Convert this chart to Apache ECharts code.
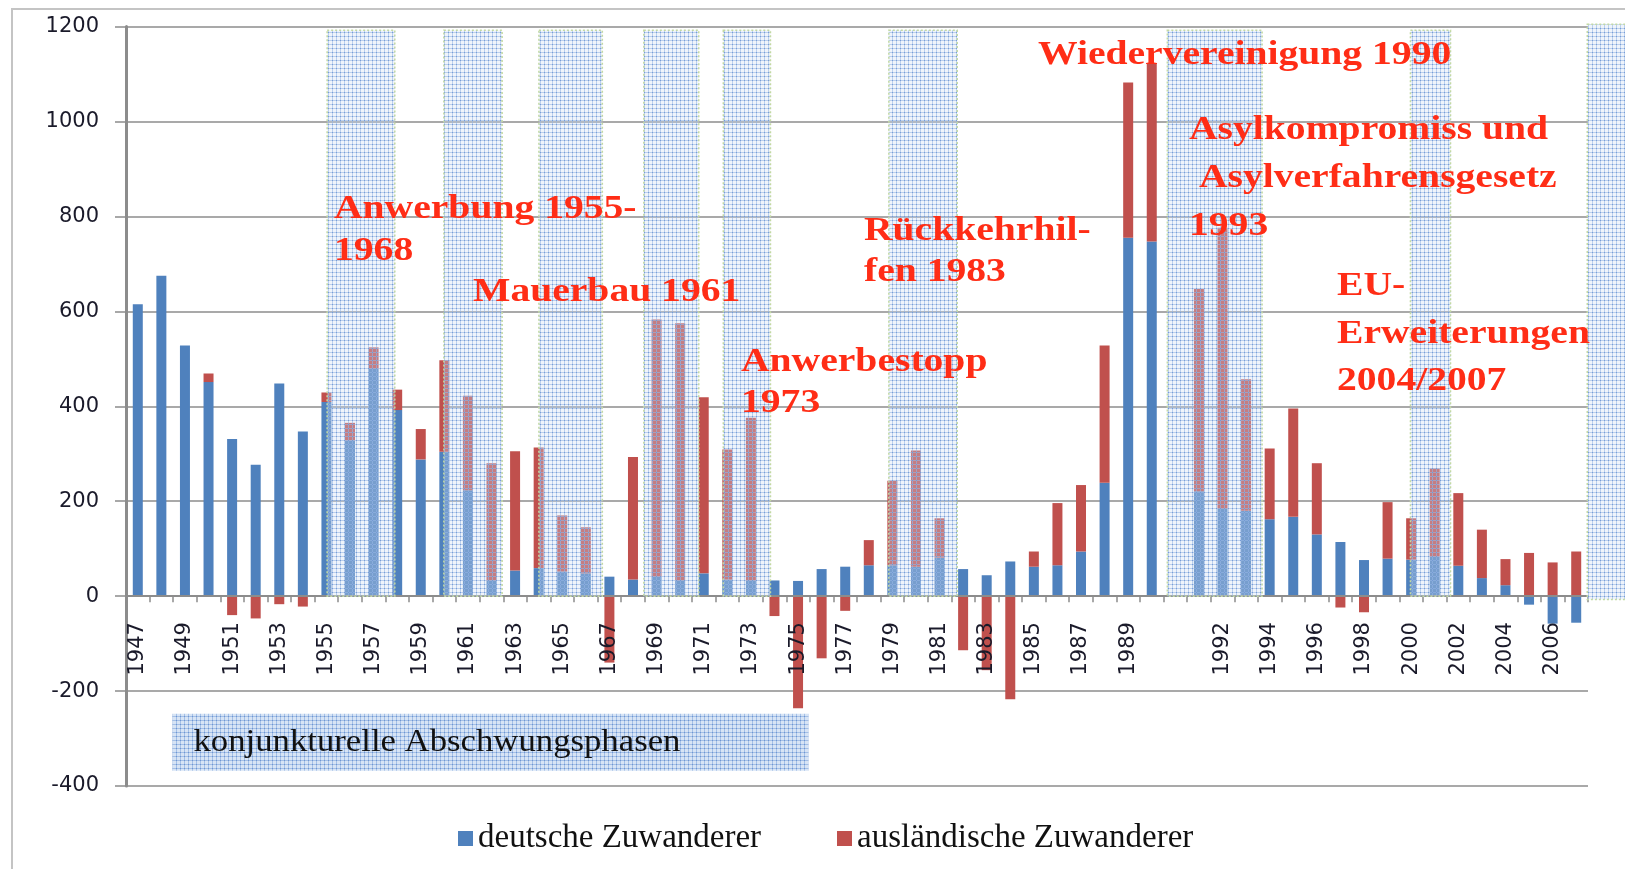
<!DOCTYPE html>
<html><head><meta charset="utf-8">
<script src="https://cdn.jsdelivr.net/npm/echarts@6/dist/echarts.min.js"></script>
<style>html,body{margin:0;padding:0;background:#fff;}#c{width:1625px;height:869px;}</style>
</head><body><div id="c"></div>
<script>
// ---- data ----
const years = ['1947','1948','1949','1950','1951','1952','1953','1954','1955','1956','1957','1958','1959','1960','1961','1962','1963','1964','1965','1966','1967','1968','1969','1970','1971','1972','1973','1974','1975','1976','1977','1978','1979','1980','1981','1982','1983','1984','1985','1986','1987','1988','1989','1990','','1991','1992','1993','1994','1995','1996','1997','1998','1999','2000','2001','2002','2003','2004','2005','2006','2007'];
const deutsche = [615,675,528,451,331,277,448,347,409,328,479,392,288,304,223,33,54,59,52,48,41,35,41,33,48,35,33,33,32,57,62,65,65,62,81,57,44,73,62,65,94,239,755,747,null,221,184,180,162,167,130,114,76,79,77,83,64,38,23,-18,-58,-56];
const auslaendische = [0,0,0,18,-40,-47,-17,-22,20,37,45,43,64,193,199,247,251,254,118,97,-140,258,542,542,371,274,343,-42,-236,-131,-31,53,178,245,83,-114,-156,-217,32,131,140,289,327,376,null,426,592,277,149,228,150,-24,-34,119,87,186,153,102,55,91,71,94];
const seriesNames = ['deutsche Zuwanderer','ausländische Zuwanderer'];
const yMin = -400, yMax = 1200, yStep = 200;
// shaded phases, in category-index units [from, to] and value range [low, high]
const phases = [[8.53,11.40,0,1192],[13.48,15.95,0,1192],[17.51,20.20,0,1192],[21.96,24.29,0,1192],[25.33,27.33,0,1192],[32.35,35.25,0,1192],[44.16,48.18,0,1192],[54.47,56.17,0,1192],[61.97,63.8,-7,1205]];
const phaseKey = [[1.97,28.94,-368,-248]];
const phaseKeyText = 'konjunkturelle Abschwungsphasen';
const notes = [
  {t:'Anwerbung 1955-\n1968', x:334, y:188, lh:42},
  {t:'Mauerbau 1961', x:473, y:271, lh:42},
  {t:'Anwerbestopp\n1973', x:741, y:342, lh:41},
  {t:'Rückkehrhil-\nfen 1983', x:864, y:211, lh:41},
  {t:'Wiedervereinigung 1990', x:1038, y:34, lh:42},
  {t:'Asylkompromiss und\n Asylverfahrensgesetz\n1993', x:1189, y:106, lh:48},
  {t:'EU-\nErweiterungen\n2004/2007', x:1337, y:263, lh:47.5}
];

function makePattern(base, line, dot){
  const c = document.createElement('canvas'); c.width = 4; c.height = 4;
  const g = c.getContext('2d');
  g.fillStyle = 'rgba(205,221,242,' + base + ')'; g.fillRect(0,0,4,4);
  g.fillStyle = 'rgba(150,182,226,' + line + ')'; g.fillRect(0,0,4,1); g.fillRect(0,0,1,4);
  g.fillStyle = 'rgba(105,145,208,' + dot + ')'; g.fillRect(0,0,1,1);
  return c;
}
const patBand = makePattern(0.32, 0.6, 0.75);
const patKey = makePattern(0.8, 0.8, 0.9);

const chart = echarts.init(document.getElementById('c'), null, {renderer:'canvas'});
const gray = '#8c8c8c';
const red = '#ff2d16';
const gridTop = 26.5, gridBottom = 83, H = 869;
const plotH = H - gridTop - gridBottom;
const zeroOffset = -plotH * (0 - yMin) / (yMax - yMin); // put category axis on the zero line
const graphics = [
  {type:'rect', shape:{x:12, y:9, width:1700, height:950}, style:{fill:'none', stroke:'#c4c4c4', lineWidth:2}, z:0, silent:true}
];
notes.forEach(n => graphics.push({
  type:'text', x:n.x, y:n.y, scaleX:1.2, z:100, silent:true,
  style:{text:n.t, font:'bold 33px "Liberation Serif"', fill:red, lineHeight:n.lh, verticalAlign:'top', align:'left'}
}));

chart.setOption({
  animation:false,
  backgroundColor:'#fff',
  grid:{left:126, right:37, top:gridTop, bottom:gridBottom, containLabel:false},
  legend:[
    {data:[seriesNames[0]], left:453, top:817, itemWidth:15, itemHeight:15, itemGap:10, icon:'rect',
     textStyle:{fontFamily:'Liberation Serif', fontSize:33, color:'#111'}},
    {data:[seriesNames[1]], left:832, top:817, itemWidth:15, itemHeight:15, itemGap:10, icon:'rect',
     textStyle:{fontFamily:'Liberation Serif', fontSize:33, color:'#111'}}
  ],
  xAxis:[
    {type:'category', data:years, boundaryGap:true, position:'bottom', offset:zeroOffset, z:4,
     axisLine:{onZero:false, lineStyle:{color:gray, width:2}},
     axisTick:{show:true, interval:0, length:6, lineStyle:{color:gray, width:1.5}},
     axisLabel:{interval:1, rotate:90, margin:26, fontFamily:'DejaVu Sans', fontSize:21, color:'#1a1a2a'},
     splitLine:{show:false}},
    {type:'value', min:0, max:62, show:false, axisLine:{onZero:false}}
  ],
  yAxis:{type:'value', min:yMin, max:yMax, interval:yStep,
    axisLine:{show:true, onZero:false, lineStyle:{color:gray, width:3}},
    axisTick:{show:true, length:11, lineStyle:{color:gray, width:1.5}},
    axisLabel:{margin:27, fontFamily:'DejaVu Sans', fontSize:21, color:'#1a1a2a', formatter:function(v){return String(v);}},
    splitLine:{show:true, lineStyle:{color:gray, width:1.5}}
  },
  series:[
    {name:seriesNames[0], type:'bar', stack:'total', data:deutsche, barWidth:10, itemStyle:{color:'#4f81bd'}, z:2},
    {name:seriesNames[1], type:'bar', stack:'total', data:auslaendische, barWidth:10, itemStyle:{color:'#c0504d'}, z:2},
    {type:'custom', xAxisIndex:1, yAxisIndex:0, clip:false, z:5, silent:true, data:phases,
     renderItem:function(params, api){
       const a = api.coord([api.value(0), api.value(3)]);
       const b = api.coord([api.value(1), api.value(2)]);
       return {type:'rect', shape:{x:a[0], y:a[1], width:b[0]-a[0], height:b[1]-a[1]},
         style:{fill:{image:patBand, repeat:'repeat'}, stroke:'#c3d9a3', lineWidth:1.5, lineDash:[2,2]}};
     }},
    {type:'custom', xAxisIndex:1, yAxisIndex:0, clip:false, z:5, silent:true, data:phaseKey,
     renderItem:function(params, api){
       const a = api.coord([api.value(0), api.value(3)]);
       const b = api.coord([api.value(1), api.value(2)]);
       return {type:'group', children:[
         {type:'rect', shape:{x:a[0], y:a[1], width:b[0]-a[0], height:b[1]-a[1]},
          style:{fill:{image:patKey, repeat:'repeat'}}},
         {type:'text', x:a[0]+21, y:(a[1]+b[1])/2+1, scaleX:1.12,
          style:{text:phaseKeyText, font:'31px "Liberation Serif"', fill:'#111', verticalAlign:'middle', align:'left'}}
       ]};
     }}
  ],
  graphic:graphics
});
</script></body></html>
